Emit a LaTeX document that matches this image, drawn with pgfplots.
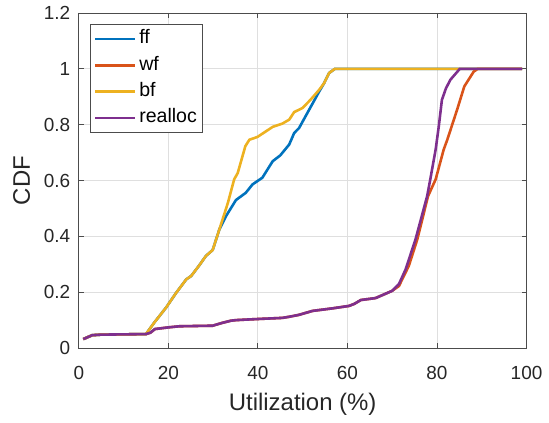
\documentclass[border=0pt]{standalone}
\usepackage{fontspec}
\setmainfont{Liberation Sans}
\usepackage{pgfplots}
\pgfplotsset{compat=1.18}
\definecolor{mlblue}{rgb}{0,0.447,0.741}
\definecolor{mlorange}{rgb}{0.850,0.325,0.098}
\definecolor{mlyellow}{rgb}{0.929,0.694,0.125}
\definecolor{mlpurple}{rgb}{0.494,0.184,0.556}
\definecolor{axgray}{rgb}{0.15,0.15,0.15}
\definecolor{gridgray}{rgb}{0.875,0.875,0.875}
\begin{document}
\begin{tikzpicture}
\begin{axis}[
  scale only axis,
  width=224.5pt, height=168pt,
  xmin=0, xmax=100, ymin=0, ymax=1.2,
  xtick={0,20,40,60,80,100},
  ytick={0,0.2,0.4,0.6,0.8,1,1.2},
  yticklabels={0,0.2,0.4,0.6,0.8,1,1.2},
  /pgf/number format/assume math mode=true,
  tick align=inside,
  major tick length=2.5pt,
  xtick pos=both, ytick pos=both,
  axis line style={draw=black!70, line width=0.4pt},
  tick style={draw=black!70, line width=0.4pt},
  grid=major,
  major grid style={draw=gridgray, line width=0.4pt},
  ticklabel style={font=\fontsize{9.5pt}{11pt}\selectfont, text=axgray},
  xticklabel style={anchor=base, yshift=-15.75pt},
  yticklabel style={anchor=east, inner sep=0pt, xshift=-4.15pt},
  xlabel={Utilization (\%)},
  ylabel={CDF},
  label style={font=\fontsize{12pt}{14pt}\selectfont, text=axgray},
  xlabel style={at={([yshift=-31.3pt]axis description cs:0.5,0)}, anchor=base},
  ylabel style={at={([xshift=-24.5pt]axis description cs:0,0.5)}, anchor=base, rotate=0},
  legend style={at={(0.026,0.966)}, anchor=north west, draw=black!70, line width=0.4pt,
    font=\fontsize{9.8pt}{11pt}\selectfont, text=black,
    inner xsep=1.5pt, inner ysep=0.5pt, row sep=0pt,
    nodes={text height=7pt, text depth=2.2pt, inner ysep=2pt, inner xsep=1.5pt}},
  legend cell align=left,
  legend image code/.code={\draw[#1, line width=1.3pt] (0pt,0pt) -- (20pt,0pt);},
  every axis plot/.append style={line width=1.3pt},
]
\coordinate (ll) at (rel axis cs:0,0);
\coordinate (ur) at (rel axis cs:1,1);
\addplot[mlblue] coordinates {
(1,0.032)(3,0.046)(5,0.048)(10,0.049)(15,0.05)(16.9,0.092)(19.5,0.145)(21.8,0.199)
(24.0,0.246)(25.1,0.258)(26.9,0.296)(28.4,0.33)(29.9,0.351)(31.4,0.425)(32.9,0.473)
(35.1,0.53)(37.3,0.556)(38.8,0.586)(39.9,0.598)(41,0.61)(43.3,0.669)(45,0.69)
(47,0.729)(48.1,0.77)(49.2,0.788)(51.5,0.855)(53.7,0.919)(54.8,0.949)(55.9,0.985)
(57.2,1.0)(99,1.0)};
\addlegendentry{ff}
\addplot[mlorange] coordinates {
(1,0.032)(3,0.046)(5,0.048)(10,0.049)(15,0.05)(16,0.055)(17,0.068)(20,0.074)
(22.5,0.078)(29.9,0.08)(32,0.09)(34,0.098)(35.1,0.10)(40,0.104)(45.5,0.108)(47,0.112)
(49.2,0.119)(52.2,0.133)(56.6,0.142)(60.4,0.151)(61.5,0.158)(63,0.172)(66.3,0.179)
(70,0.205)(71.5,0.222)(73.7,0.294)(75.6,0.389)(78.0,0.544)(79.3,0.59)(79.7,0.604)
(81.5,0.711)(82.3,0.746)(84.5,0.854)(86.1,0.937)(88.2,0.99)(89.1,1.0)(99,1.0)};
\addlegendentry{wf}
\addplot[mlyellow] coordinates {
(1,0.032)(3,0.046)(5,0.048)(10,0.049)(15,0.05)(16.9,0.092)(19.5,0.145)(21.8,0.199)
(24.0,0.246)(25.1,0.258)(26.9,0.296)(28.4,0.33)(29.9,0.351)(31.4,0.425)(33.3,0.52)
(34.7,0.604)(35.5,0.627)(37.2,0.723)(38.1,0.746)(39.9,0.756)(43.3,0.792)(45.5,0.804)
(47.0,0.818)(48.1,0.845)(50,0.86)(51.8,0.89)(53.7,0.925)(54.8,0.949)(55.9,0.985)
(57.2,1.0)(99,1.0)};
\addlegendentry{bf}
\addplot[mlpurple] coordinates {
(1,0.032)(3,0.046)(5,0.048)(10,0.049)(15,0.05)(16,0.055)(17,0.068)(20,0.074)
(22.5,0.078)(29.9,0.08)(32,0.09)(34,0.098)(35.1,0.10)(40,0.104)(45.5,0.108)(47,0.112)
(49.2,0.119)(52.2,0.133)(56.6,0.142)(60.4,0.151)(61.5,0.158)(63,0.172)(66.3,0.179)
(70,0.205)(71.5,0.229)(73,0.282)(75.2,0.389)(77.8,0.544)(78.5,0.604)(79.7,0.711)
(80.4,0.794)(81.1,0.889)(82,0.93)(83,0.961)(85.1,1.0)(99,1.0)};
\addlegendentry{realloc}
\end{axis}
\path (ll) ++(-39.5pt,-36pt);
\path (ur) ++(10.5pt,6.5pt);
\end{tikzpicture}
\end{document}
